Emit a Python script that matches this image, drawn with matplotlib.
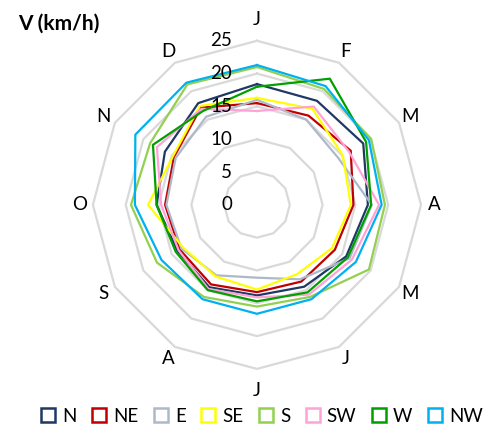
import numpy as np
import matplotlib.pyplot as plt
from matplotlib.lines import Line2D

plt.rcParams['font.family'] = ['Lato', 'DejaVu Sans']

################################################################################
# Data (wind speed per month and direction, km/h)
################################################################################
months = ['J', 'F', 'M', 'A', 'M', 'J', 'J', 'A', 'S', 'O', 'N', 'D']
directions = ['N', 'NE', 'E', 'SE', 'S', 'SW', 'W', 'NW']
colors = ['#1F3864', '#C00000', '#ADB9CA', '#FFFF00',
          '#92D050', '#FFA3D7', '#00A000', '#00B0F0']

v_n  = [18.4, 18.3, 18.7, 16.9, 15.7, 14.4, 13.8, 14.5, 14.0, 15.3, 16.2, 17.9]
v_ne = [15.5, 15.7, 16.5, 14.7, 13.7, 13.5, 13.3, 14.0, 13.6, 14.0, 14.6, 17.1]
v_e  = [16.0, 15.0, 14.3, 17.5, 16.3, 13.1, 11.1, 12.4, 13.3, 13.8, 14.3, 15.5]
v_se = [16.3, 16.9, 15.1, 14.3, 13.2, 12.2, 12.9, 12.6, 13.0, 16.6, 14.8, 17.4]
v_s  = [21.0, 20.4, 20.1, 19.5, 19.7, 16.2, 15.5, 16.2, 17.6, 19.2, 18.8, 21.2]
v_sw = [14.3, 17.3, 16.2, 18.6, 16.7, 15.8, 14.1, 14.8, 13.8, 14.6, 17.6, 16.9]
v_w  = [18.0, 22.2, 19.2, 17.4, 16.0, 15.4, 14.7, 15.0, 14.3, 15.3, 18.3, 16.5]
v_nw = [21.3, 20.9, 19.7, 19.0, 17.4, 16.6, 16.6, 16.6, 16.8, 18.6, 21.4, 21.5]

series = [v_n, v_ne, v_e, v_se, v_s, v_sw, v_w, v_nw]
rings = [5, 10, 15, 20, 25]
ring_labels = [0, 5, 10, 15, 20, 25]

################################################################################
# Radar chart
################################################################################
fig = plt.figure(figsize=(4.89, 4.29), dpi=100)
ax = fig.add_axes([0.190, 0.140, 0.671, 0.765], projection='polar')
ax.set_theta_zero_location('N')
ax.set_theta_direction(-1)
ax.set_ylim(0, 25)
ax.grid(False)
ax.spines['polar'].set_visible(False)
ax.set_xticks([])
ax.set_yticks([])

theta = np.linspace(0, 2 * np.pi, len(months), endpoint=False)
theta_c = np.append(theta, theta[0])

# polygon grid rings
for r in rings:
    ax.plot(theta_c, [r] * len(theta_c), color='#D9D9D9', lw=1.6,
            zorder=1, clip_on=False)

for vals, c in zip(series, colors):
    ax.plot(theta_c, vals + vals[:1], color=c, lw=1.6, zorder=3, clip_on=False)

# month labels
for i, (t, m) in enumerate(zip(theta, months)):
    r_lab = 28.3 if i in (0, 6) else 27.0
    ax.text(t, r_lab, m, ha='center', va='center', fontsize=13.5)

# radial value labels
for v in ring_labels:
    ax.annotate(str(v), xy=(0, v), xytext=(-25, 0), textcoords='offset pixels',
                ha='right', va='center', fontsize=13.5, zorder=5)

fig.text(18 / 489, 1 - 24 / 429, 'V (km/h)', fontsize=15, fontweight='bold',
         ha='left', va='center')

handles = [Line2D([], [], ls='none', marker='s', markersize=9.5,
                  markerfacecolor='white', markeredgecolor=c, markeredgewidth=1.8)
           for c in colors]
fig.legend(handles, directions, loc='center', bbox_to_anchor=(0.535, 0.029),
           ncol=8, frameon=False, fontsize=13.5, handlelength=0.8,
           handletextpad=0.35, columnspacing=0.8, borderpad=0)

fig.savefig('out.png', dpi=100)
